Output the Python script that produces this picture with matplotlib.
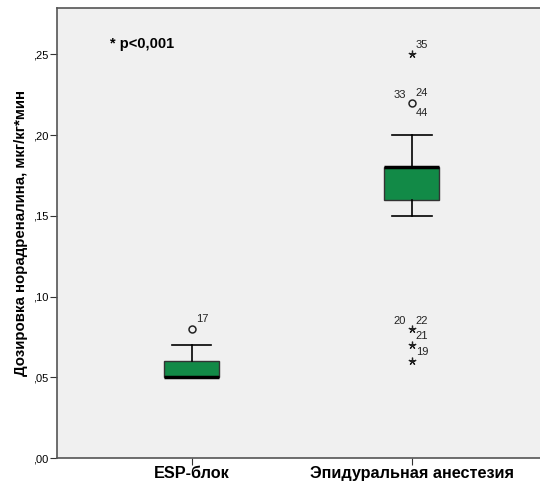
import matplotlib
matplotlib.use("Agg")
import matplotlib.pyplot as plt

groups = ["ESP-блок", "Эпидуральная анестезия"]
q1 = [0.05, 0.16]
med = [0.05, 0.18]
q3 = [0.06, 0.18]
whislo = [0.05, 0.15]
whishi = [0.07, 0.20]

# outliers: (group index, value)
circles = [(0, 0.08), (1, 0.22)]
stars = [(1, 0.25), (1, 0.08), (1, 0.07), (1, 0.06)]
# case labels: group, value, text, offset x/y in points
labels = [
    (0, 0.08, "17", 3, 7),
    (1, 0.22, "33", -13, 6),
    (1, 0.22, "24", 3, 7),
    (1, 0.22, "44", 3, -7),
    (1, 0.25, "35", 3, 7),
    (1, 0.08, "20", -13, 6),
    (1, 0.08, "22", 3, 6),
    (1, 0.08, "21", 3, -5),
    (1, 0.07, "19", 3, -5),
]

plt.rcParams['font.family'] = ['Liberation Sans', 'DejaVu Sans']

fig = plt.figure(figsize=(5.4, 4.93), dpi=100)
ax = fig.add_axes([57/540, 1-458/493, 1-57/540, 450/493])
ax.set_facecolor("#f0f0f0")

stats = []
for i in range(len(groups)):
    stats.append(dict(q1=q1[i], med=med[i], q3=q3[i], whislo=whislo[i], whishi=whishi[i], fliers=[]))

pos = [1, 2]
ax.bxp(stats, positions=pos, widths=0.25, patch_artist=True, showfliers=False,
       boxprops=dict(facecolor="#128a47", edgecolor="#333333", linewidth=1),
       medianprops=dict(color="black", linewidth=2.5),
       whiskerprops=dict(color="black", linewidth=1.2),
       capprops=dict(color="black", linewidth=1.2),
       capwidths=0.18)

ax.plot([pos[g] for g, v in circles], [v for g, v in circles], 'o', ms=5,
        mfc='none', mec='#222222', mew=1.1)
ax.plot([pos[g] for g, v in stars], [v for g, v in stars], linestyle='none',
        marker=(5, 2, 0), ms=5.5, mec='#222222', mew=0.9)

for g, v, t, dx, dy in labels:
    ax.annotate(t, (pos[g], v), xytext=(dx, dy), textcoords='offset points',
                fontsize=8, color='#222222', va='center')

ax.text(0.629, 0.2565, "* p<0,001", fontsize=10.5, fontweight='bold', va='center')

ax.set_xlim(0.388, 2.583)
ax.set_ylim(0, 0.2788)
ax.set_xticks(pos)
ax.set_xticklabels(groups, fontsize=11.7, fontweight='bold')
yt = [0, 0.05, 0.10, 0.15, 0.20, 0.25]
ax.set_yticks(yt)
ax.set_yticklabels([("%.2f" % v)[1:].replace(".", ",") for v in yt], fontsize=8)
ax.tick_params(axis='both', length=5, color='#333333', pad=1)
ax.set_ylabel("Дозировка норадреналина, мкг/кг*мин", fontsize=10.8, fontweight='bold', labelpad=4)

for s in ['left', 'bottom', 'top']:
    ax.spines[s].set_color('#555555')
    ax.spines[s].set_linewidth(1.2)
ax.spines['right'].set_visible(False)

fig.savefig("out.png", dpi=100)
